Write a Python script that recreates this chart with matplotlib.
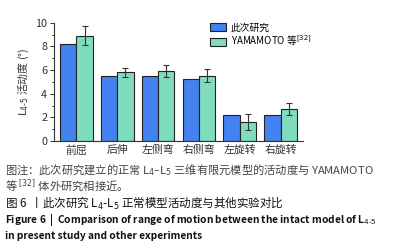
import matplotlib
matplotlib.use("Agg")
import matplotlib.pyplot as plt
import numpy as np
from matplotlib.ticker import MultipleLocator

plt.rcParams['font.family'] = ['Noto Sans CJK SC', 'DejaVu Sans']

categories = ["前屈", "后伸", "左侧弯", "右侧弯", "左旋转", "右旋转"]
present = [8.2, 5.5, 5.5, 5.2, 2.2, 2.2]
yamamoto = [8.9, 5.8, 5.9, 5.5, 1.6, 2.7]
yamamoto_err = [0.8, 0.4, 0.5, 0.55, 0.65, 0.5]
series_labels = ["此次研究", "YAMAMOTO 等$^{[32]}$"]
yticks = [0, 2, 4, 6, 8, 10]

fig = plt.figure(figsize=(3.95, 2.47), dpi=100)
ax = fig.add_axes([54/395, 1-141/247, (303-54)/395, (141-22.7)/247])

x = np.arange(len(categories))
w = 0.4
ax.bar(x - w/2, present, w, color='#4382f0', edgecolor='#222222', linewidth=0.8,
       label=series_labels[0])
ax.bar(x + w/2, yamamoto, w, color='#7fdcbf', edgecolor='#222222', linewidth=0.8,
       label=series_labels[1], yerr=yamamoto_err,
       error_kw=dict(ecolor='#333333', elinewidth=0.8, capsize=2, capthick=0.8))

ax.set_ylim(0, 10)
ax.set_xlim(-0.55, len(categories) - 0.45)
ax.set_yticks(yticks)
ax.yaxis.set_minor_locator(MultipleLocator(1))
ax.set_xticks(x)
ax.set_xticklabels(categories, fontsize=7.8, color='#333333')
ax.tick_params(axis='y', labelsize=7.8, length=3, width=0.7, colors='#333333', pad=2)
ax.tick_params(axis='y', which='minor', length=1.5, width=0.6)
ax.tick_params(axis='x', length=0, pad=3)
for s in ['top', 'right']:
    ax.spines[s].set_visible(False)
for s in ['left', 'bottom']:
    ax.spines[s].set_linewidth(0.8)
    ax.spines[s].set_color('#333333')
ax.set_ylabel("L$_{4\\text{-}5}$ 活动度 (°)", fontsize=7.8, color='#333333', labelpad=3)

leg = ax.legend(loc='upper left', bbox_to_anchor=(0.6, 1.06), frameon=False,
                fontsize=7, handlelength=1.6, handleheight=0.9,
                labelspacing=0.1, borderpad=0.2, handletextpad=0.5)

gray = '#444444'
fig.text(0.012, 1-170/247, "图注：此次研究建立的正常 L$_4$–L$_5$ 三维有限元模型的活动度与 YAMAMOTO",
         fontsize=8.1, color=gray, va='center')
fig.text(0.012, 1-186/247, "等 $^{[32]}$ 体外研究相接近。", fontsize=8.1, color=gray, va='center')
fig.text(0.012, 1-203/247, "图 6  丨此次研究 L$_4$-L$_5$ 正常模型活动度与其他实验对比",
         fontsize=8.3, color='#111111', va='center')
fig.text(0.012, 1-220/247, "Figure 6  |  Comparison of range of motion between the intact model of L$_{4\\text{-}5}$",
         fontsize=7.3, color='#111111', va='center', fontweight='bold')
fig.text(0.012, 1-236/247, "in present study and other experiments",
         fontsize=7.3, color='#111111', va='center', fontweight='bold')

fig.savefig("out.png", dpi=100)
